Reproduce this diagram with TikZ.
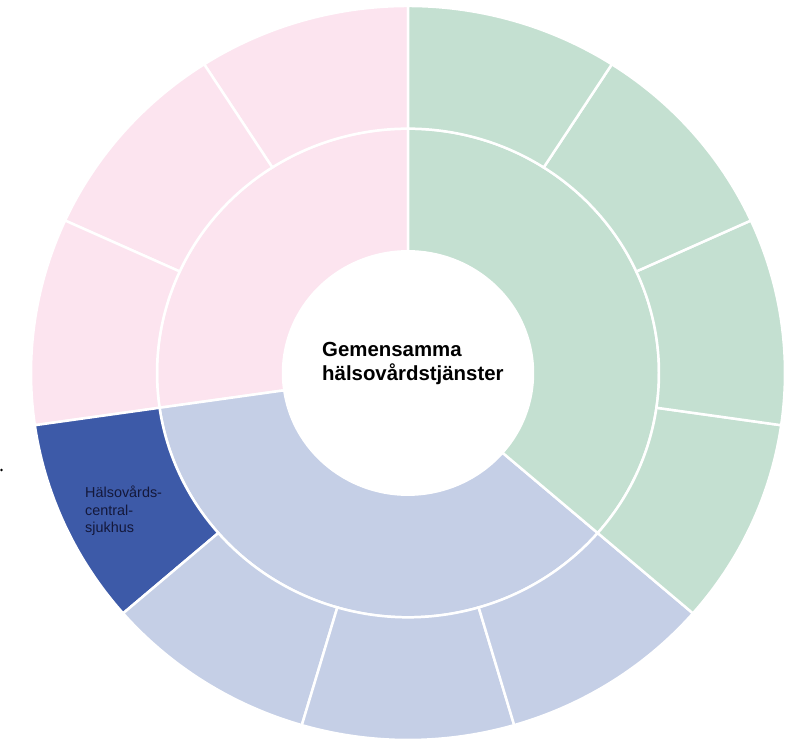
\documentclass[tikz,border=0pt]{standalone}
\usepackage{fontspec}
\setmainfont{Liberation Sans}
\definecolor{pinkc}{HTML}{FCE4EF}
\definecolor{greenc}{HTML}{C4E0D1}
\definecolor{bluec}{HTML}{C5CFE6}
\definecolor{darkbluec}{HTML}{3D5AA8}
\definecolor{labelc}{HTML}{14183A}
\newcommand{\ringseg}[5]{\fill[#1,draw=white,line width=2.5pt] (#2:#4) arc[start angle=#2,end angle=#3,radius=#4] -- (#3:#5) arc[start angle=#3,end angle=#2,radius=#5] -- cycle;}
\tikzset{
  centertext/.style={anchor=base west, inner sep=0pt, font=\fontsize{20.4}{23.5}\selectfont\bfseries, text=black},
  segtext/.style={anchor=base west, inner sep=0pt, font=\fontsize{14.4}{17.2}\selectfont, text=labelc}
}
\begin{document}
\begin{tikzpicture}[x=1pt,y=1pt]
\useasboundingbox (0,0) rectangle (798,743);
\fill[white] (0,0) rectangle (798,743);
\begin{scope}[shift={(408,370)}, yscale=0.9735]
  % inner ring
  \ringseg{pinkc}{90}{188.18}{125}{251}
  \ringseg{bluec}{188.18}{319.09}{125}{251}
  \ringseg{greenc}{-40.91}{90}{125}{251}
  % outer ring
  \ringseg{pinkc}{90}{122.73}{251}{377}
  \ringseg{pinkc}{122.73}{155.45}{251}{377}
  \ringseg{pinkc}{155.45}{188.18}{251}{377}
  \ringseg{darkbluec}{188.18}{220.91}{251}{377}
  \ringseg{bluec}{220.91}{253.64}{251}{377}
  \ringseg{bluec}{253.64}{286.36}{251}{377}
  \ringseg{bluec}{286.36}{319.09}{251}{377}
  \ringseg{greenc}{319.09}{351.82}{251}{377}
  \ringseg{greenc}{351.82}{384.55}{251}{377}
  \ringseg{greenc}{384.55}{417.27}{251}{377}
  \ringseg{greenc}{417.27}{450}{251}{377}
\end{scope}
\node[centertext] (center) at (322,386) {\begin{tabular}[t]{@{}l@{}}Gemensamma\\hälsovårdstjänster\end{tabular}};
\node[segtext] (hcs) at (85,245) {\begin{tabular}[t]{@{}l@{}}Hälsovårds-\\central-\\sjukhus\end{tabular}};
\fill[black] (1.5,273) circle[radius=1.3];
\end{tikzpicture}
\end{document}
